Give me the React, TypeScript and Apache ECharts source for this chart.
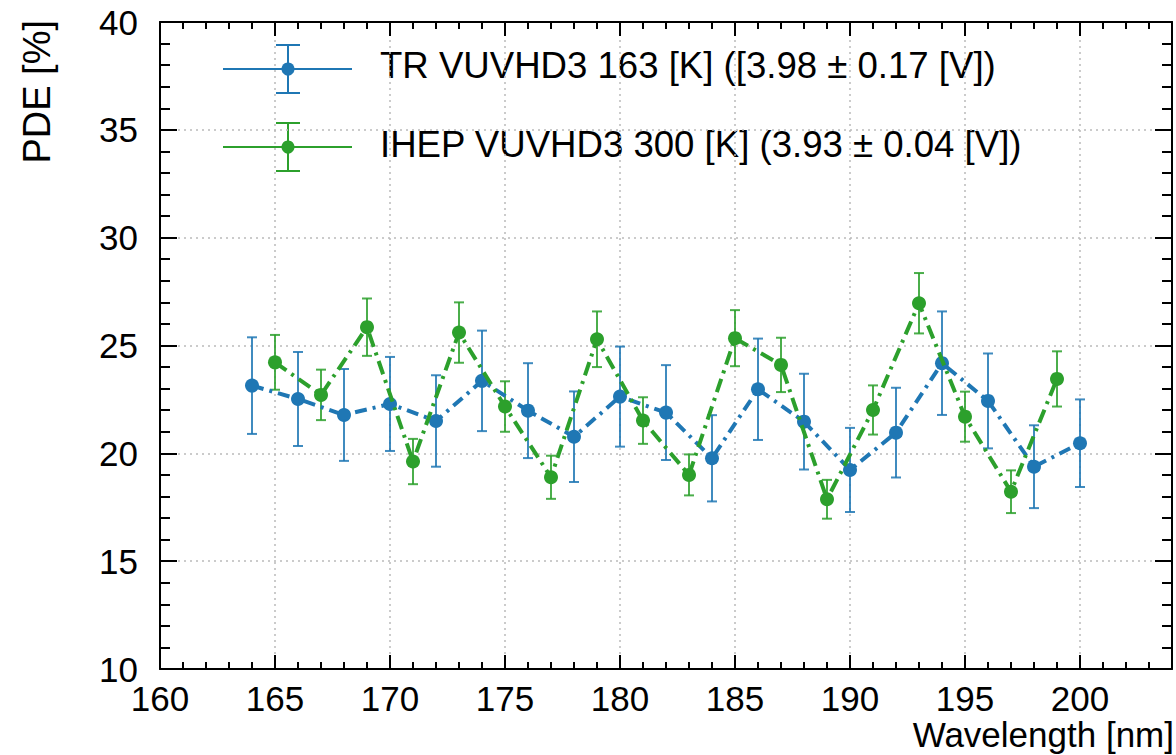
import React, { useEffect, useRef } from "react";
import * as echarts from "echarts";

const blueX = [164, 166, 168, 170, 172, 174, 176, 178, 180, 182, 184, 186, 188, 190, 192, 194, 196, 198, 200];
const blueY = [23.14, 22.52, 21.78, 22.29, 21.5, 23.36, 21.98, 20.77, 22.63, 21.89, 19.77, 22.97, 21.47, 19.23, 20.96, 24.18, 22.43, 19.38, 20.47];
const blueErr = [2.24, 2.18, 2.13, 2.18, 2.12, 2.33, 2.2, 2.1, 2.32, 2.2, 2.0, 2.35, 2.22, 1.95, 2.08, 2.4, 2.2, 1.92, 2.03];

const greenX = [165, 167, 169, 171, 173, 175, 177, 179, 181, 183, 185, 187, 189, 191, 193, 195, 197, 199];
const greenY = [24.22, 22.71, 25.85, 19.62, 25.6, 22.17, 18.89, 25.29, 21.52, 19.0, 25.34, 24.1, 17.87, 22.01, 26.96, 21.7, 18.22, 23.45];
const greenErr = [1.27, 1.17, 1.33, 1.05, 1.4, 1.17, 1.0, 1.29, 1.08, 0.95, 1.3, 1.26, 0.9, 1.14, 1.4, 1.16, 0.99, 1.28];

const blueName = "TR VUVHD3 163 [K] ([3.98 ± 0.17 [V])";
const greenName = "IHEP VUVHD3 300 [K] (3.93 ± 0.04 [V])";
const xTitle = "Wavelength [nm]";
const yTitle = "PDE [%]";

const BLUE = "#1f77b4";
const GREEN = "#2ca02c";
const FONT = "'Liberation Sans', Arial, Helvetica, sans-serif";

function errRender(color: string) {
  return (params: any, api: any) => {
    const x = api.value(0);
    const y = api.value(1);
    const e = api.value(2);
    const t = api.coord([x, y + e]);
    const b = api.coord([x, y - e]);
    const hw = 5;
    const st = { stroke: color, lineWidth: 2, opacity: 0.85 };
    return {
      type: "group",
      children: [
        { type: "line", shape: { x1: t[0], y1: t[1], x2: b[0], y2: b[1] }, style: st },
        { type: "line", shape: { x1: t[0] - hw, y1: t[1], x2: t[0] + hw, y2: t[1] }, style: st },
        { type: "line", shape: { x1: b[0] - hw, y1: b[1], x2: b[0] + hw, y2: b[1] }, style: st },
      ],
    };
  };
}

function legendItem(color: string, cy: number, ty: number, label: string) {
  const st = { stroke: color, lineWidth: 2 };
  return [
    { type: "line", shape: { x1: 223, y1: cy, x2: 352, y2: cy }, style: st },
    { type: "line", shape: { x1: 288, y1: cy - 24, x2: 288, y2: cy + 24 }, style: st },
    { type: "line", shape: { x1: 276, y1: cy - 24, x2: 300, y2: cy - 24 }, style: st },
    { type: "line", shape: { x1: 276, y1: cy + 24, x2: 300, y2: cy + 24 }, style: st },
    { type: "circle", shape: { cx: 288, cy, r: 6.5 }, style: { fill: color } },
    {
      type: "text",
      x: 380,
      y: ty,
      style: { text: label, font: `36.6px ${FONT}`, fill: "#000", textVerticalAlign: "middle", textAlign: "left" },
    },
  ];
}

export default function App() {
  const ref = useRef<HTMLDivElement>(null);
  useEffect(() => {
    document.body.style.margin = "0";
    if (!ref.current) return;
    const chart = echarts.init(ref.current, undefined, { renderer: "svg" });
    const axisLine = { show: true, onZero: false, lineStyle: { color: "#000", width: 2 } };
    const gridLine = { show: true, lineStyle: { color: "#bbb", width: 1.5, type: [2, 4] as any } };
    const option: any = {
      animation: false,
      backgroundColor: "#fff",
      grid: { left: 160, top: 22, right: 4, bottom: 86, containLabel: false },
      xAxis: [
        {
          type: "value", position: "bottom", min: 160, max: 204, interval: 5,
          axisLine,
          axisTick: { show: true, inside: true, length: 14, lineStyle: { color: "#000", width: 2 } },
          axisLabel: { show: true, margin: 13, fontSize: 35, lineHeight: 32, color: "#000", fontFamily: FONT, showMaxLabel: false },
          splitLine: gridLine,
        },
        {
          type: "value", position: "bottom", min: 160, max: 204, interval: 1,
          axisLine: { show: false },
          axisTick: { show: true, inside: true, length: 7, lineStyle: { color: "#000", width: 2 } },
          axisLabel: { show: false },
          splitLine: { show: false },
        },
        {
          type: "value", position: "top", min: 160, max: 204, interval: 5,
          axisLine,
          axisTick: { show: true, inside: true, length: 14, lineStyle: { color: "#000", width: 2 } },
          axisLabel: { show: false },
          splitLine: { show: false },
        },
        {
          type: "value", position: "top", min: 160, max: 204, interval: 1,
          axisLine: { show: false },
          axisTick: { show: true, inside: true, length: 7, lineStyle: { color: "#000", width: 2 } },
          axisLabel: { show: false },
          splitLine: { show: false },
        },
      ],
      yAxis: [
        {
          type: "value", position: "left", min: 10, max: 40, interval: 5,
          axisLine,
          axisTick: { show: true, inside: true, length: 17, lineStyle: { color: "#000", width: 2 } },
          minorTick: { show: true, splitNumber: 5, length: 10, lineStyle: { color: "#000", width: 2 } },
          axisLabel: { show: true, margin: 22, fontSize: 35, color: "#000", fontFamily: FONT },
          splitLine: gridLine,
        },
        {
          type: "value", position: "right", min: 10, max: 40, interval: 5,
          axisLine,
          axisTick: { show: true, inside: true, length: 17, lineStyle: { color: "#000", width: 2 } },
          minorTick: { show: true, splitNumber: 5, length: 10, lineStyle: { color: "#000", width: 2 } },
          axisLabel: { show: false },
          splitLine: { show: false },
        },
      ],
      series: [
        {
          type: "custom", name: "blueErr", xAxisIndex: 0, yAxisIndex: 0, z: 2,
          renderItem: errRender(BLUE),
          encode: { x: 0, y: 1 },
          data: blueX.map((x, i) => [x, blueY[i], blueErr[i]]),
        },
        {
          type: "custom", name: "greenErr", xAxisIndex: 0, yAxisIndex: 0, z: 2,
          renderItem: errRender(GREEN),
          encode: { x: 0, y: 1 },
          data: greenX.map((x, i) => [x, greenY[i], greenErr[i]]),
        },
        {
          type: "line", name: blueName, xAxisIndex: 0, yAxisIndex: 0, z: 3,
          data: blueX.map((x, i) => [x, blueY[i]]),
          symbol: "circle", symbolSize: 14, showSymbol: true,
          itemStyle: { color: BLUE },
          lineStyle: { color: BLUE, width: 4, type: [12, 6, 3, 6] },
        },
        {
          type: "line", name: greenName, xAxisIndex: 0, yAxisIndex: 0, z: 4,
          data: greenX.map((x, i) => [x, greenY[i]]),
          symbol: "circle", symbolSize: 14, showSymbol: true,
          itemStyle: { color: GREEN },
          lineStyle: { color: GREEN, width: 4, type: [14, 6, 3, 6] },
        },
      ],
      graphic: [
        ...legendItem(BLUE, 69, 65, blueName),
        ...legendItem(GREEN, 147, 144, greenName),
        {
          type: "text", x: 37, y: 20, rotation: Math.PI / 2,
          style: { text: yTitle, font: `38px ${FONT}`, fill: "#000", textAlign: "right", textVerticalAlign: "middle" },
        },
        {
          type: "text", x: 1174, y: 734,
          style: { text: xTitle, font: `35px ${FONT}`, fill: "#000", textAlign: "right", textVerticalAlign: "middle" },
        },
      ],
    };
    chart.setOption(option);
    return () => chart.dispose();
  }, []);
  return <div ref={ref} style={{ width: 1176, height: 755 }} />;
}
